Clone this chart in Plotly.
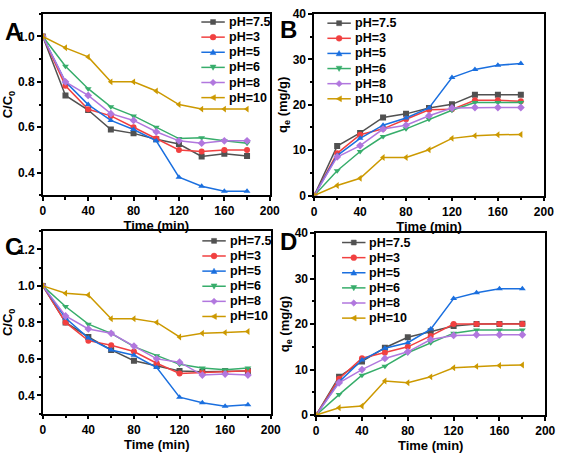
import plotly.graph_objects as go

time_min = [0, 20, 40, 60, 80, 100, 120, 140, 160, 180]
series_names = ["pH=7.5", "pH=3", "pH=5", "pH=6", "pH=8", "pH=10"]

# Panel A: C/C0
a_ph75 = [1.0, 0.74, 0.676, 0.59, 0.573, 0.547, 0.526, 0.471, 0.483, 0.473]
a_ph3 = [1.0, 0.783, 0.679, 0.65, 0.60, 0.55, 0.50, 0.493, 0.50, 0.50]
a_ph5 = [1.0, 0.80, 0.70, 0.63, 0.59, 0.54, 0.38, 0.34, 0.318, 0.318]
a_ph6 = [1.0, 0.869, 0.77, 0.69, 0.65, 0.60, 0.55, 0.554, 0.54, 0.53]
a_ph8 = [1.0, 0.80, 0.74, 0.66, 0.63, 0.58, 0.54, 0.53, 0.54, 0.54]
a_ph10 = [1.0, 0.95, 0.91, 0.80, 0.80, 0.76, 0.70, 0.68, 0.68, 0.68]

# Panel B: qe (mg/g)
b_ph75 = [0, 10.9, 13.8, 17.2, 18.0, 19.3, 20.1, 22.2, 22.2, 22.2]
b_ph3 = [0, 9.3, 13.4, 14.7, 16.8, 18.9, 19.0, 21.0, 21.0, 20.8]
b_ph5 = [0, 8.8, 12.6, 15.5, 17.1, 19.3, 26.0, 27.8, 28.7, 29.1]
b_ph6 = [0, 5.45, 9.7, 13.0, 14.7, 16.8, 18.8, 20.5, 20.5, 20.5]
b_ph8 = [0, 8.5, 11.0, 14.65, 15.5, 17.6, 19.3, 19.4, 19.4, 19.4]
b_ph10 = [0, 2.2, 3.8, 8.4, 8.4, 10.1, 12.6, 13.2, 13.4, 13.45]

# Panel C: C/C0
c_ph75 = [1.0, 0.80, 0.72, 0.649, 0.59, 0.561, 0.533, 0.529, 0.533, 0.533]
c_ph3 = [1.0, 0.80, 0.70, 0.675, 0.64, 0.576, 0.52, 0.525, 0.53, 0.535]
c_ph5 = [1.0, 0.824, 0.714, 0.649, 0.62, 0.552, 0.39, 0.36, 0.34, 0.349]
c_ph6 = [1.0, 0.887, 0.79, 0.74, 0.667, 0.617, 0.57, 0.55, 0.541, 0.55]
c_ph8 = [1.0, 0.835, 0.764, 0.74, 0.67, 0.60, 0.582, 0.511, 0.517, 0.511]
c_ph10 = [1.0, 0.96, 0.95, 0.82, 0.82, 0.80, 0.72, 0.74, 0.744, 0.75]

# Panel D: qe (mg/g)
d_ph75 = [0, 8.4, 11.8, 14.8, 17.1, 18.4, 19.6, 20.0, 20.0, 20.1]
d_ph3 = [0, 8.0, 12.5, 13.7, 15.0, 17.4, 20.0, 20.0, 20.0, 20.0]
d_ph5 = [0, 7.3, 12.1, 14.7, 15.9, 18.9, 25.6, 26.9, 27.75, 27.75]
d_ph6 = [0, 4.5, 8.75, 10.75, 13.7, 15.9, 18.0, 18.7, 18.7, 18.7]
d_ph8 = [0, 7.1, 10.0, 12.45, 13.9, 16.6, 17.5, 17.65, 17.65, 17.65]
d_ph10 = [0, 1.6, 2.0, 7.5, 7.1, 8.4, 10.4, 10.7, 10.9, 11.0]

colors = ["#515151", "#F14040", "#1A6FDF", "#37AD6B", "#B177DE", "#CC9900"]
symbols = ["square", "circle", "triangle-up", "triangle-down", "diamond", "triangle-left"]

W, H = 567, 455
FONT = "Arial, Liberation Sans, sans-serif"

# (xaxis, yaxis, data, legend line start px, legend first row px)
panels = [
    ("x", "y", [a_ph75, a_ph3, a_ph5, a_ph6, a_ph8, a_ph10], 203, 15.5),
    ("x2", "y2", [b_ph75, b_ph3, b_ph5, b_ph6, b_ph8, b_ph10], 332, 16.7),
    ("x3", "y3", [c_ph75, c_ph3, c_ph5, c_ph6, c_ph8, c_ph10], 204, 241.3),
    ("x4", "y4", [d_ph75, d_ph3, d_ph5, d_ph6, d_ph8, d_ph10], 347, 243),
]

fig = go.Figure()
for xa, ya, data, _, _ in panels:
    for name, vals, col, sym in zip(series_names, data, colors, symbols):
        fig.add_trace(go.Scatter(
            x=time_min, y=vals, name=name, mode="lines+markers",
            xaxis=xa, yaxis=ya, showlegend=False,
            line=dict(color=col, width=1.5),
            marker=dict(color=col, symbol=sym, size=6),
        ))


def px_x(v):
    return v / W


def px_y(v):
    return 1 - v / H


def marker_shape(sym, cx, cy, col, r=3.0):
    base = dict(xref="paper", yref="paper", fillcolor=col, line=dict(color=col, width=0.5))
    if sym == "square":
        return dict(base, type="rect", x0=px_x(cx - r * 0.85), x1=px_x(cx + r * 0.85),
                    y0=px_y(cy - r * 0.85), y1=px_y(cy + r * 0.85))
    if sym == "circle":
        return dict(base, type="circle", x0=px_x(cx - r), x1=px_x(cx + r),
                    y0=px_y(cy - r), y1=px_y(cy + r))
    if sym == "triangle-up":
        pts = [(cx, cy - r), (cx + r, cy + r * 0.8), (cx - r, cy + r * 0.8)]
    elif sym == "triangle-down":
        pts = [(cx, cy + r), (cx + r, cy - r * 0.8), (cx - r, cy - r * 0.8)]
    elif sym == "diamond":
        pts = [(cx, cy - r * 1.1), (cx + r * 1.1, cy), (cx, cy + r * 1.1), (cx - r * 1.1, cy)]
    else:  # triangle-left
        pts = [(cx - r, cy), (cx + r * 0.8, cy - r), (cx + r * 0.8, cy + r)]
    path = "M " + " L ".join(f"{px_x(a):.5f},{px_y(b):.5f}" for a, b in pts) + " Z"
    return dict(base, type="path", path=path)


ROW = 15.6
LINE_LEN = 24
for _, _, _, lx, ly in panels:
    for i, (name, col, sym) in enumerate(zip(series_names, colors, symbols)):
        cy = ly + i * ROW
        fig.add_shape(type="line", xref="paper", yref="paper",
                      x0=px_x(lx), x1=px_x(lx + LINE_LEN), y0=px_y(cy), y1=px_y(cy),
                      line=dict(color=col, width=1.5))
        fig.add_shape(**marker_shape(sym, lx + LINE_LEN / 2, cy, col))
        fig.add_annotation(text=f"<b>{name}</b>", xref="paper", yref="paper",
                           x=px_x(lx + LINE_LEN + 2), y=px_y(cy), xanchor="left", yanchor="middle",
                           showarrow=False, font=dict(family=FONT, size=12.5, color="black"))


def xd(l, r):
    return [l / W, r / W]


def yd(t, b):
    return [1 - b / H, 1 - t / H]


axis_common = dict(
    showline=True, linecolor="black", linewidth=1.5, mirror=True,
    ticks="outside", ticklen=4, tickwidth=1.5, tickcolor="black",
    showgrid=False, zeroline=False,
    tickfont=dict(family=FONT, size=12, color="black", weight="bold"),
)
xtitle = dict(text="<b>Time (min)</b>", font=dict(family=FONT, size=13, color="black"), standoff=0)


def xaxis(domain, anchor):
    return dict(axis_common, domain=domain, anchor=anchor, range=[0, 200], dtick=40, tick0=0,
                minor=dict(dtick=20, ticks="outside", ticklen=2.5, tickwidth=1.5, tickcolor="black"),
                title=xtitle)


def yaxis(domain, anchor, rng, dtick, mdtick, tick0, title, fmt):
    return dict(axis_common, domain=domain, anchor=anchor, range=rng, dtick=dtick, tick0=tick0,
                tickformat=fmt,
                minor=dict(dtick=mdtick, ticks="outside", ticklen=2.5, tickwidth=1.5, tickcolor="black"),
                title=dict(text=title, font=dict(family=FONT, size=13, color="black"), standoff=2))


fig.update_layout(
    width=W, height=H,
    margin=dict(l=0, r=0, t=0, b=0),
    paper_bgcolor="white", plot_bgcolor="white",
    showlegend=False,
    xaxis=xaxis(xd(40.7, 273), "y"),
    yaxis=yaxis(yd(7, 194.3), "x", [0.3, 1.1], 0.2, 0.1, 0.4, "<b>C/C<sub>0</sub></b>", ".1f"),
    xaxis2=xaxis(xd(318.5, 553.5), "y2"),
    yaxis2=yaxis(yd(7.3, 194.5), "x2", [0, 40], 10, 5, 0, "<b>q<sub>e</sub> (mg/g)</b>", "d"),
    xaxis3=xaxis(xd(40.7, 274), "y3"),
    yaxis3=yaxis(yd(231.3, 419.5), "x3", [0.3, 1.3], 0.2, 0.1, 0.4, "<b>C/C<sub>0</sub></b>", ".1f"),
    xaxis4=xaxis(xd(320.5, 555), "y4"),
    yaxis4=yaxis(yd(233.3, 421), "x4", [0, 40], 10, 5, 0, "<b>q<sub>e</sub> (mg/g)</b>", "d"),
)

labels = [("A", 0, 25), ("B", 281, 23), ("C", 0, 247), ("D", 281, 241.5)]
for txt, lx, ly in labels:
    fig.add_annotation(text=f"<b>{txt}</b>", xref="paper", yref="paper",
                       x=lx / W, y=1 - ly / H, xanchor="left", yanchor="middle",
                       showarrow=False, font=dict(family=FONT, size=24, color="black"))

fig.write_html("out.html", config={"displayModeBar": False},
               post_script="document.body.style.margin='0';")
